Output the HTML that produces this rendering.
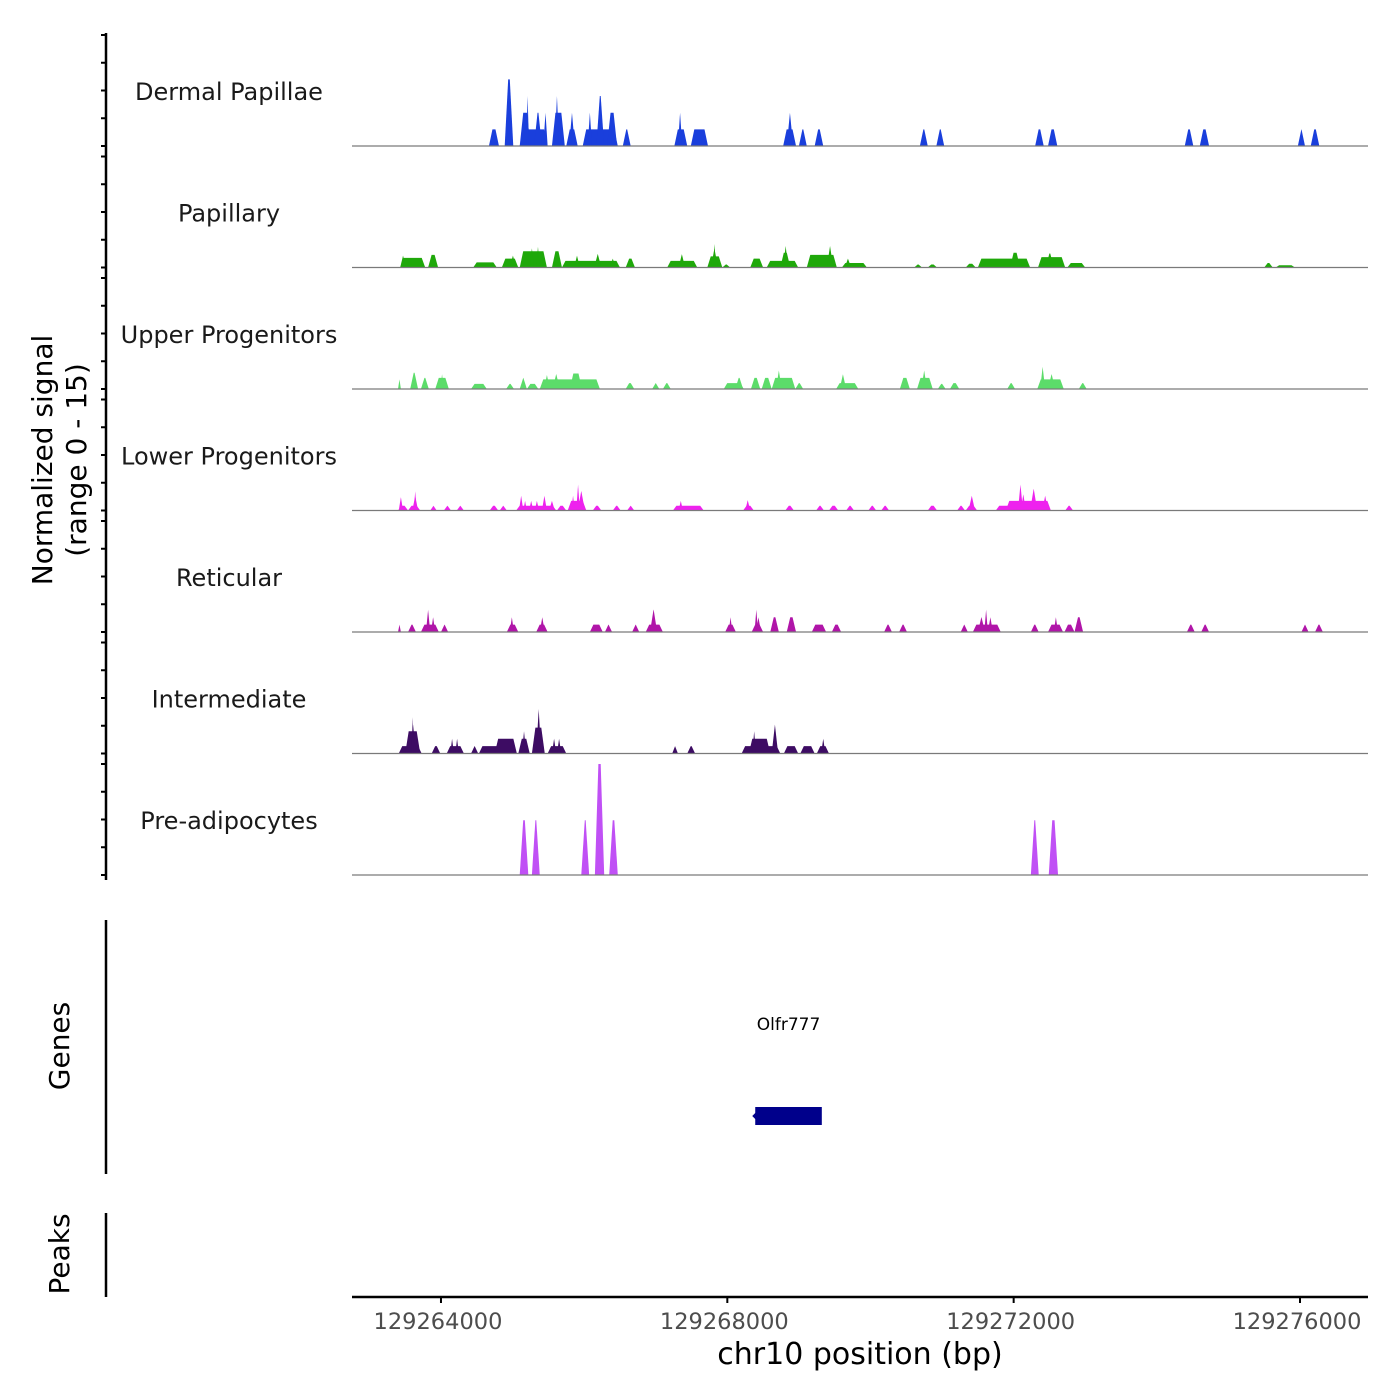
<!DOCTYPE html>
<html><head><meta charset="utf-8"><style>
html,body{margin:0;padding:0;background:#fff;}
svg{display:block;font-family:"DejaVu Sans","Liberation Sans",sans-serif;}
</style></head><body>
<svg id="chart" width="1400" height="1400" viewBox="0 0 1400 1400"></svg>
<script>
// ---- data (positions in kb offset from 129,260,000; values = normalized signal) ----
const trackNames = ["Dermal Papillae","Papillary","Upper Progenitors","Lower Progenitors","Reticular","Intermediate","Pre-adipocytes"];
const trackColors = ["#1a3fdc","#1fa80a","#5cdc6a","#ee22ee","#b015a8","#3d0c63","#c050f5"];
const xTicks = [129264000,129268000,129272000,129276000];
const xTickLabels = ["129264000","129268000","129272000","129276000"];
const yTicks = [0,3.75,7.5,11.25,15];

const dpStart=[4.67,4.89,5.10,5.10,5.19,5.30,5.43,5.55,5.59,5.75,5.79,5.98,6.05,6.17,6.32,6.54,7.26,7.31,7.49,8.78,8.83,9.00,9.22,10.69,10.92,12.30,12.48,14.39,14.60,15.97,16.15];
const dpEnd  =[4.81,5.01,5.49,5.25,5.23,5.41,5.49,5.73,5.65,5.91,5.87,6.47,6.11,6.28,6.46,6.65,7.44,7.37,7.73,8.96,8.92,9.11,9.34,10.80,11.03,12.42,12.61,14.51,14.73,16.07,16.27];
const dpVal  =[2.25,9,2.25,4.5,6.75,4.5,4.5,4.5,6.75,2.25,4.5,2.25,4.5,6.75,4.5,2.25,2.25,4.5,2.25,2.25,4.5,2.25,2.25,2.25,2.25,2.25,2.25,2.25,2.25,2.25,2.25];

const paStart=[3.43,3.43,3.82,4.45,4.85,4.96,5.10,5.24,5.33,5.55,5.69,5.86,6.14,6.36,6.58,7.16,7.32,7.72,7.77,7.80,7.93,8.32,8.55,8.74,8.78,9.11,9.39,9.60,9.64,10.61,10.80,11.33,11.50,11.95,12.34,12.45,12.75,15.50,15.66];
const paEnd  =[3.78,3.51,3.96,4.78,5.08,5.05,5.48,5.30,5.38,5.69,6.50,5.94,6.24,6.44,6.71,7.58,7.41,7.93,7.87,7.84,8.04,8.50,8.99,8.88,8.85,9.53,9.48,9.95,9.73,10.72,10.93,11.47,12.23,12.09,12.72,12.56,13.00,15.62,15.93];
const paVal  =[1.3,1.6,1.7,0.7,1.2,1.6,2.2,2.6,2.8,2.2,0.9,1.6,1.8,1.2,1.2,0.9,1.8,1.5,2.5,3.2,0.4,1.2,0.9,2.0,2.9,1.7,2.9,0.6,1.2,0.4,0.4,0.5,1.2,2.0,1.4,1.9,0.6,0.6,0.3];

const upStart=[3.40,3.57,3.72,3.92,3.99,4.42,4.91,5.10,5.20,5.38,5.44,5.56,5.80,6.58,6.95,7.10,7.95,8.11,8.33,8.48,8.62,8.68,8.95,9.52,9.57,10.41,10.65,10.71,10.94,11.11,11.91,12.33,12.37,12.48,12.91];
const upEnd  =[3.44,3.68,3.83,4.11,4.04,4.64,5.02,5.20,5.36,6.22,5.52,5.66,5.97,6.70,7.05,7.21,8.23,8.22,8.46,8.62,8.95,8.76,9.06,9.83,9.66,10.55,10.87,10.79,11.05,11.24,12.02,12.70,12.44,12.58,13.02];
const upVal  =[1.3,2.2,1.5,1.5,2.0,0.7,0.7,1.5,0.7,1.3,1.9,2.0,2.1,0.8,0.8,0.8,0.8,1.5,1.5,1.5,1.5,2.5,0.8,0.8,2.0,1.5,1.5,2.5,0.7,0.8,0.8,1.3,3.0,2.0,0.8];

const loStart=[3.40,3.41,3.54,3.60,3.62,3.85,4.04,4.22,4.68,4.82,5.05,5.09,5.15,5.23,5.31,5.41,5.51,5.62,5.77,5.82,5.89,5.91,6.12,6.40,6.60,7.24,7.32,8.22,8.25,8.81,9.24,9.42,9.66,9.97,10.15,10.80,11.21,11.33,11.37,11.75,11.89,12.06,12.10,12.23,12.40,12.72];
const loEnd  =[3.54,3.47,3.71,3.68,3.66,3.94,4.14,4.32,4.80,4.92,5.61,5.15,5.20,5.29,5.37,5.48,5.59,5.75,6.03,5.87,5.94,6.01,6.24,6.51,6.70,7.67,7.38,8.37,8.32,8.93,9.35,9.55,9.77,10.08,10.26,10.93,11.32,11.49,11.46,12.52,12.52,12.13,12.17,12.33,12.48,12.83];
const loVal  =[0.65,1.8,0.65,2.0,2.6,0.65,0.65,0.65,0.65,0.65,0.65,2.0,1.3,1.3,1.3,2.0,1.3,0.65,1.3,2.0,3.5,2.6,0.65,0.65,0.65,0.65,1.3,0.65,1.4,0.65,0.65,0.65,0.65,0.65,0.65,0.65,0.65,0.65,2.0,0.65,1.3,3.5,2.2,2.9,2.0,0.65];

const reStart=[3.40,3.54,3.72,3.79,3.86,4.00,4.92,4.96,5.33,5.38,6.08,6.29,6.67,6.86,6.92,7.97,8.02,8.34,8.38,8.40,8.60,8.83,9.18,9.46,10.19,10.40,11.26,11.43,11.50,11.59,11.64,12.24,12.48,12.56,12.71,12.85,14.42,14.62,16.02,16.21];
const reEnd  =[3.44,3.65,3.97,3.85,3.92,4.10,5.08,5.02,5.49,5.45,6.26,6.39,6.77,7.10,7.02,8.12,8.07,8.50,8.43,8.47,8.72,8.96,9.38,9.59,10.30,10.51,11.36,11.82,11.60,11.64,11.71,12.35,12.69,12.62,12.85,12.97,14.53,14.73,16.12,16.32];
const reVal  =[1,1,1,3,2,1,1,2,1,2,1,1,1,1,3,1,2,1,3,2,2,2,1,1,1,1,1,1,2,3,2,1,1,2,1,2,1,1,1,1];

const inStart=[3.41,3.50,3.57,3.59,3.87,4.08,4.13,4.20,4.42,4.53,4.75,5.08,5.13,5.27,5.33,5.49,5.55,5.62,7.23,7.44,8.20,8.30,8.35,8.62,8.79,9.02,9.25,9.31];
const inEnd  =[3.73,3.71,3.65,3.62,3.99,4.32,4.18,4.25,4.52,5.06,5.06,5.24,5.19,5.45,5.40,5.75,5.61,5.68,7.31,7.55,8.74,8.60,8.40,8.71,8.99,9.22,9.42,9.37];
const inVal  =[1,3,3.9,4.9,1,1,2,2,1,1,2,2,3,3.5,6,1,2,2,1,1,1,2,3,3.9,1,1,1,2];

const prStart=[5.10,5.27,5.96,6.15,6.35,12.24,12.49];
const prEnd  =[5.22,5.38,6.07,6.28,6.47,12.35,12.62];
const prVal  =[7.4,7.4,7.4,15,7.4,7.4,7.4];

const geneName="Olfr777", geneStart=8.39, geneEnd=9.32;

const starts=[dpStart,paStart,upStart,loStart,reStart,inStart,prStart];
const ends=[dpEnd,paEnd,upEnd,loEnd,reEnd,inEnd,prEnd];
const vals=[dpVal,paVal,upVal,loVal,reVal,inVal,prVal];

// ---- scales ----
const NS="http://www.w3.org/2000/svg";
const svg=document.getElementById('chart');
const X0=352, X1=1368, bp0=129262757, bp1=129276950;
function xs(bp){return X0+(bp-bp0)/(bp1-bp0)*(X1-X0);}
function xk(kb){return xs(129260000+kb*1000);}
const base0=146, step=121.5, trackH=111, yMax=15;
function ys(i,v){return base0+i*step - v/yMax*trackH;}
function el(tag,attrs,parent){const e=document.createElementNS(NS,tag);for(const k in attrs)e.setAttribute(k,attrs[k]);(parent||svg).appendChild(e);return e;}

// y axis
el('line',{x1:106,y1:33,x2:106,y2:880,stroke:'#000','stroke-width':2.5});
for(let i=0;i<trackNames.length;i++){
  for(const t of yTicks){
    const tk=el('line',{x1:101,x2:106,y1:ys(i,t),y2:ys(i,t),stroke:'#000','stroke-width':2});
    
    
  }
}
const yt=el('text',{transform:'translate(52,460) rotate(-90)','text-anchor':'middle','font-size':28,fill:'#000'});


el('tspan',{x:0,dy:0},yt).textContent='Normalized signal';
el('tspan',{x:0,dy:34},yt).textContent='(range 0 - 15)';

// tracks
for(let i=0;i<trackNames.length;i++){
  const g=el('g',{});
  
  
  const base=ys(i,0);
  for(let j=0;j<starts[i].length;j++){
    const a=xk(starts[i][j]), b=xk(ends[i][j]);
    const r=Math.min(3.5,(b-a)/2), y=ys(i,vals[i][j]);
    const p=el('polygon',{points:`${a},${base} ${a+r},${y} ${b-r},${y} ${b},${base}`,fill:trackColors[i]},g);
    
    
  }
  const bl=el('line',{x1:X0,x2:X1,y1:base,y2:base,stroke:'#7a7a7a','stroke-width':1.2},g);
  
  
  const lb=el('text',{x:229,y:base-46,'text-anchor':'middle','font-size':24,fill:'#1a1a1a'});
  
  
  lb.textContent=trackNames[i];
}

// genes panel
el('line',{x1:106,y1:920,x2:106,y2:1174,stroke:'#000','stroke-width':2.5});
const gt=el('text',{transform:'translate(69,1046) rotate(-90)','text-anchor':'middle','font-size':28,fill:'#000'});


gt.textContent='Genes';
const gl=el('text',{x:(xk(geneStart)+xk(geneEnd))/2,y:1030,'text-anchor':'middle','font-size':17,fill:'#000'});


gl.textContent=geneName;
const gb=el('rect',{x:xk(geneStart),y:1107,width:xk(geneEnd)-xk(geneStart),height:18,fill:'#00008b'});


el('polygon',{points:`${xk(geneStart)-3},1116 ${xk(geneStart)+2},1111 ${xk(geneStart)+2},1121`,fill:'#00008b'});

// peaks panel
el('line',{x1:106,y1:1213,x2:106,y2:1297,stroke:'#000','stroke-width':2.5});
const pt=el('text',{transform:'translate(69,1254) rotate(-90)','text-anchor':'middle','font-size':28,fill:'#000'});


pt.textContent='Peaks';

// x axis
el('line',{x1:X0,x2:X1,y1:1297,y2:1297,stroke:'#000','stroke-width':2.5});
for(let k=0;k<xTicks.length;k++){
  const x=xs(xTicks[k]);
  el('line',{x1:x,x2:x,y1:1297,y2:1303,stroke:'#000','stroke-width':2});
  const t=el('text',{x:x-3,y:1329,'text-anchor':'middle','font-size':22.5,fill:'#4d4d4d'});
  
  
  t.textContent=xTickLabels[k];
}
const xt=el('text',{x:860,y:1364,'text-anchor':'middle','font-size':30,fill:'#000'});


xt.textContent='chr10 position (bp)';
</script>
</body></html>
